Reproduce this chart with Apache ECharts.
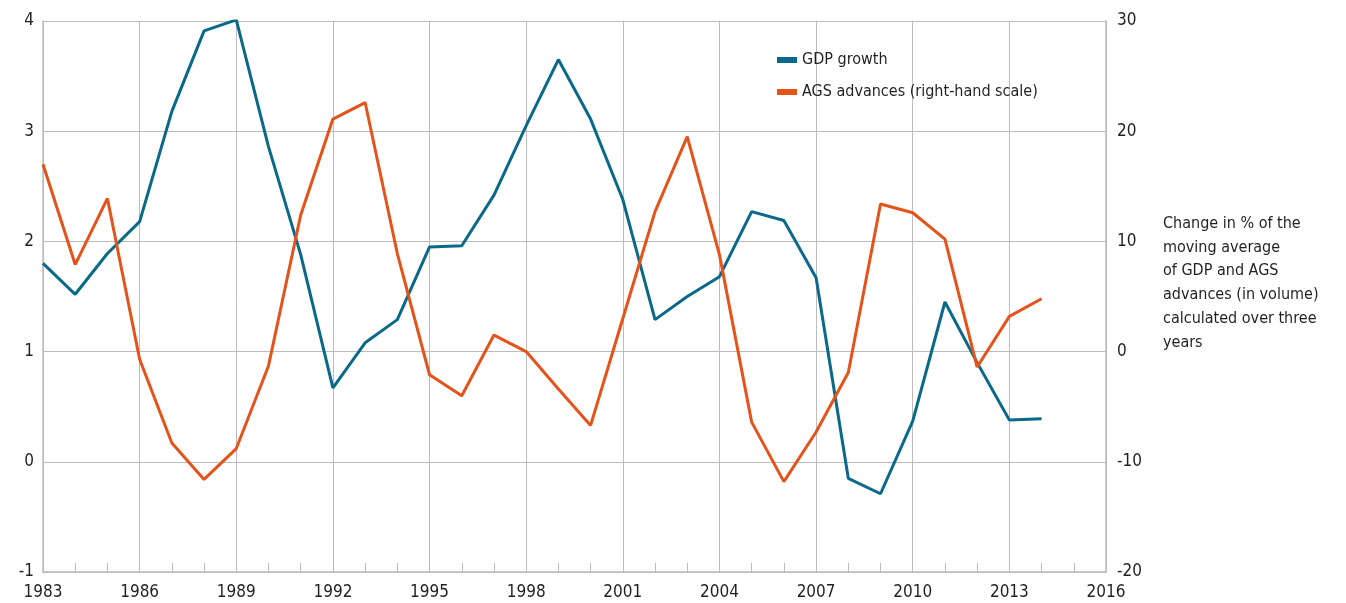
<!DOCTYPE html>
<html>
<head>
<meta charset="utf-8">
<title>GDP growth and AGS advances</title>
<script src="https://cdn.jsdelivr.net/npm/echarts@6/dist/echarts.min.js"></script>
<style>
  html, body { margin: 0; padding: 0; background: #fff; }
  #chart { width: 1346px; height: 603px; }
</style>
</head>
<body>
<div id="chart"></div>
<script>
const years = [1983, 1984, 1985, 1986, 1987, 1988, 1989, 1990, 1991, 1992, 1993, 1994, 1995, 1996, 1997, 1998,
  1999, 2000, 2001, 2002, 2003, 2004, 2005, 2006, 2007, 2008, 2009, 2010, 2011, 2012, 2013, 2014]
// left-hand scale
const gdpGrowth = [1.80, 1.52, 1.89, 2.18, 3.18, 3.91, 4.01, 2.86, 1.88, 0.67, 1.08, 1.29, 1.95, 1.96, 2.42, 3.05,
  3.65, 3.11, 2.38, 1.29, 1.50, 1.68, 2.27, 2.19, 1.67, -0.15, -0.29, 0.37, 1.45, 0.90, 0.38, 0.39]
// right-hand scale
const agsAdvances = [17.0, 7.9, 13.9, -0.7, -8.3, -11.6, -8.8, -1.3, 12.4, 21.1, 22.6, 8.9, -2.1, -4.0, 1.5, 0.0,
  -3.4, -6.7, 3.0, 12.7, 19.5, 8.8, -6.4, -11.8, -7.3, -1.9, 13.4, 12.6, 10.2, -1.4, 3.2, 4.8]
const leftTicks = [-1, 0, 1, 2, 3, 4]
const rightTicks = [-20, -10, 0, 10, 20, 30]
const note = ['Change in % of the', 'moving average', 'of GDP and AGS', 'advances (in volume)', 'calculated over three', 'years']

const font = '"DejaVu Sans Condensed", "Liberation Sans Narrow", sans-serif'
const textColor = '#231f20'
const gridColor = '#bcbcbc'

const chart = echarts.init(document.getElementById('chart'))

chart.setOption({
  animation: false,
  textStyle: { fontFamily: font },
  grid: {
    left: 43,
    right: 240,
    top: 21,
    bottom: 31,
  },
  legend: {
    orient: 'vertical',
    left: 772,
    top: 47,
    itemWidth: 20,
    itemHeight: 6,
    itemGap: 16,
    icon: 'rect',
    textStyle: { fontFamily: font, fontSize: 16, color: textColor },
    data: ['GDP growth', 'AGS advances (right-hand scale)'],
  },
  xAxis: {
    type: 'value',
    min: 1983,
    max: 2016,
    interval: 3,
    axisLine: { show: true, onZero: false, lineStyle: { color: gridColor, width: 1.5 } },
    axisTick: { show: true, inside: true, length: 9, lineStyle: { color: gridColor } },
    minorTick: { show: true, splitNumber: 3, length: 9, lineStyle: { color: gridColor } },
    splitLine: { show: true, lineStyle: { color: gridColor, width: 1 } },
    axisLabel: {
      fontFamily: font,
      fontSize: 17,
      color: textColor,
      margin: 12,
      formatter: (v) => String(v),
    },
  },
  yAxis: [
    {
      type: 'value',
      min: leftTicks[0],
      max: leftTicks[leftTicks.length - 1],
      interval: 1,
      axisLine: { show: true, lineStyle: { color: gridColor, width: 1.5 } },
      axisTick: { show: false },
      splitLine: { show: true, lineStyle: { color: gridColor, width: 1 } },
      axisLabel: { fontFamily: font, fontSize: 17, color: textColor, margin: 9 },
    },
    {
      type: 'value',
      min: rightTicks[0],
      max: rightTicks[rightTicks.length - 1],
      interval: 10,
      position: 'right',
      axisLine: { show: true, lineStyle: { color: gridColor, width: 1.5 } },
      axisTick: { show: false },
      splitLine: { show: false },
      axisLabel: { fontFamily: font, fontSize: 17, color: textColor, margin: 11 },
    },
  ],
  graphic: [
    {
      type: 'text',
      left: 1163,
      top: 212,
      style: {
        text: note.join('\n'),
        font: '16px ' + font,
        fill: textColor,
        lineHeight: 23.7,
      },
    },
  ],
  series: [
    {
      name: 'GDP growth',
      type: 'line',
      yAxisIndex: 0,
      data: years.map((y, i) => [y, gdpGrowth[i]]),
      showSymbol: false,
      lineStyle: { color: '#0a6889', width: 3 },
      itemStyle: { color: '#0a6889' },
    },
    {
      name: 'AGS advances (right-hand scale)',
      type: 'line',
      yAxisIndex: 1,
      data: years.map((y, i) => [y, agsAdvances[i]]),
      showSymbol: false,
      lineStyle: { color: '#e5521a', width: 3 },
      itemStyle: { color: '#e5521a' },
    },
  ],
})
</script>
</body>
</html>
